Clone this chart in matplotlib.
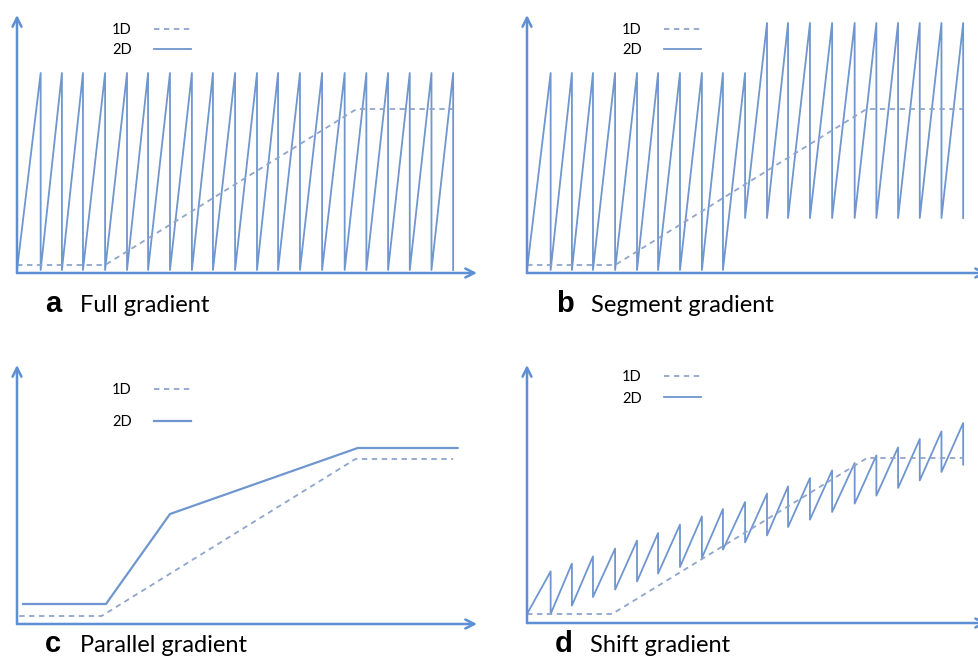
import numpy as np
import matplotlib.pyplot as plt

# tooth positions (shared by panels a, b, d)
teeth_x = [1.09, 2.07, 3.04, 4.06, 5.07, 6.04, 7.05, 8.06, 9.03, 10.05,
           11.06, 12.03, 13.04, 14.06, 15.1, 16.1, 17.1, 18.1, 19.1, 20.1]

# a: full gradient
a_top = [10.0] * 20
a_bottom = [0.15] * 20

# b: segment gradient
b_top = [10.0] * 10 + [12.5] * 10
b_bottom = [0.15] * 9 + [2.75] * 11

# d: shift gradient
d_top = [2.58, 2.97, 3.33, 3.72, 4.12, 4.5, 4.92, 5.33, 5.7, 6.05,
         6.47, 6.83, 7.25, 7.63, 8.0, 8.38, 8.78, 9.2, 9.58, 10.0]
d_bottom = [0.45, 0.87, 1.3, 1.67, 2.08, 2.47, 2.8, 3.25, 3.67, 4.03,
            4.38, 4.8, 5.17, 5.55, 5.97, 6.37, 6.75, 7.13, 7.55, 7.92]

# 1D gradients (dashed)
ab_1d_x = [0, 4.06, 15.65, 20.1]
ab_1d_y = [0.4, 0.4, 8.2, 8.2]
c_1d_x = [0.1, 3.9, 15.6, 20.1]
c_1d_y = [0.4, 0.4, 8.25, 8.25]
d_1d_x = [0, 3.92, 15.67, 20.12]
d_1d_y = [0.45, 0.45, 8.25, 8.25]

# c: parallel 2D
c_2d_x = [0.28, 4.1, 7.05, 15.7, 20.3]
c_2d_y = [1.0, 1.0, 5.5, 8.8, 8.8]

LINE = "#6f96cf"
DASH = "#8fa5cb"
AXIS = "#5d8fd4"


def sawtooth(x0, y0, xs, tops, bottoms):
    px, py = [0], [y0]
    for x, t, b in zip(xs, tops, bottoms):
        px += [x, x]
        py += [t, b]
    return px, py


W, H = 979, 659
fig = plt.figure(figsize=(W / 100, H / 100), dpi=100)

# origin (px), top of y range in data units
panels = {
    "a": (17, 273, 13.0),
    "b": (527, 273, 13.0),
    "c": (17, 624, 13.05),
    "d": (527, 623, 13.0),
}
axes = {}
for k, (ox, oy, ytop) in panels.items():
    ax = fig.add_axes([ox / W, (H - oy) / H, 21.2 * 21.7 / W, ytop * 20 / H])
    ax.set_xlim(0, 21.2)
    ax.set_ylim(0, ytop)
    ax.axis("off")
    ax.annotate("", xy=(21.2, 0), xytext=(0, 0),
                arrowprops=dict(arrowstyle="->", color=AXIS, lw=1.8,
                                mutation_scale=16, shrinkA=0, shrinkB=0))
    ax.annotate("", xy=(0, ytop - 0.1), xytext=(0, 0),
                arrowprops=dict(arrowstyle="->", color=AXIS, lw=1.8,
                                mutation_scale=16, shrinkA=0, shrinkB=0))
    axes[k] = ax

px, py = sawtooth(0, 0.15, teeth_x, a_top, a_bottom)
axes["a"].plot(px, py, color=LINE, lw=1.3, label="2D")
axes["a"].plot(ab_1d_x, ab_1d_y, color=DASH, lw=1.3, ls=(0, (3, 2.5)), label="1D")

px, py = sawtooth(0, 0.15, teeth_x, b_top, b_bottom)
axes["b"].plot(px, py, color=LINE, lw=1.3, label="2D")
axes["b"].plot(ab_1d_x, ab_1d_y, color=DASH, lw=1.3, ls=(0, (3, 2.5)), label="1D")

axes["c"].plot(c_2d_x, c_2d_y, color=LINE, lw=1.6, label="2D")
axes["c"].plot(c_1d_x, c_1d_y, color=DASH, lw=1.3, ls=(0, (3, 2.5)), label="1D")

px, py = sawtooth(0, 0.45, teeth_x, d_top, d_bottom)
axes["d"].plot(px, py, color=LINE, lw=1.3, label="2D")
axes["d"].plot(d_1d_x, d_1d_y, color=DASH, lw=1.3, ls=(0, (3, 2.5)), label="1D")

# legends: label on the left, sample on the right
leg_pos = {"a": (0.395, 0.99, 0.45), "b": (0.395, 0.99, 0.45),
           "c": (0.395, 0.95, 1.2), "d": (0.395, 1.0, 0.5)}
for k, ax in axes.items():
    h, l = ax.get_legend_handles_labels()
    x0, y0, sp = leg_pos[k]
    ax.legend(h[::-1], l[::-1], loc="upper right", bbox_to_anchor=(x0, y0),
              frameon=False, markerfirst=False, handlelength=2.6,
              handletextpad=1.5, labelspacing=sp, borderpad=0,
              prop={"family": "Lato", "size": 10.5})

captions = {"a": (45, 312, "Full gradient"), "b": (556, 312, "Segment gradient"),
            "c": (45, 652, "Parallel gradient"), "d": (555, 652, "Shift gradient")}
for k, (x, y, txt) in captions.items():
    fig.text(x / W, 1 - y / H, k, fontsize=21, fontweight="bold",
             family="Liberation Sans", va="baseline", ha="left")
    fig.text((x + 35) / W, 1 - y / H, txt, fontsize=17, family="Lato",
             va="baseline", ha="left")

fig.savefig("out.png", dpi=100)
